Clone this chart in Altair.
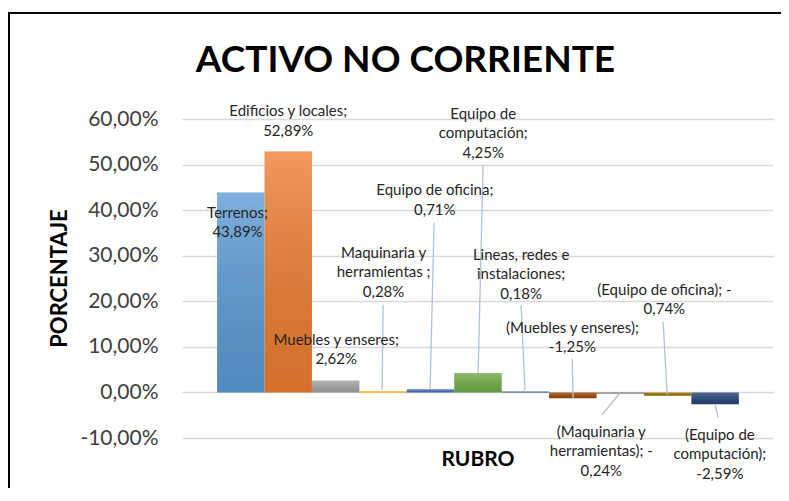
import altair as alt
import pandas as pd

# ---- data ----
categories = [
    "Terrenos", "Edificios y locales", "Muebles y enseres", "Maquinaria y herramientas",
    "Equipo de oficina", "Equipo de computación", "Lineas, redes e instalaciones",
    "(Muebles y enseres)", "(Maquinaria y herramientas)", "(Equipo de oficina)",
    "(Equipo de computación)",
]
values = [43.89, 52.89, 2.62, 0.28, 0.71, 4.25, 0.18, -1.25, -0.24, -0.74, -2.59]
label_texts = [
    "Terrenos;\n43,89%",
    "Edificios y locales;\n52,89%",
    "Muebles y enseres;\n2,62%",
    "Maquinaria y\nherramientas ;\n0,28%",
    "Equipo de oficina;\n0,71%",
    "Equipo de\ncomputación;\n4,25%",
    "Lineas, redes e\ninstalaciones;\n0,18%",
    "(Muebles y enseres);\n-1,25%",
    "(Maquinaria y\nherramientas); -\n0,24%",
    "(Equipo de oficina); -\n0,74%",
    "(Equipo de\ncomputación);\n-2,59%",
]
colors = ["#5b9bd5", "#ed7d31", "#a5a5a5", "#ffc000", "#4472c4", "#70ad47",
          "#255e91", "#9e480e", "#636363", "#997300", "#264478"]
y_ticks = [-10, 0, 10, 20, 30, 40, 50, 60]

# ---- label layout (data units: bar index / percent of first text line) ----
label_x = [-0.07, 1.0, 2.01, 3.01, 4.09, 5.11, 5.91, 6.99, 7.60, 8.93, 10.1]
label_y = [39.4, 61.7, 11.6, 30.7, 44.4, 61.2, 30.2, 14.2, -8.6, 22.5, -9.3]

# leader lines (data units)
lead_x1 = [3.0, 4.075, 5.108, 5.909, 6.985, 7.617, 8.904, 10.063]
lead_y1 = [19.25, 37.24, 49.97, 19.25, 7.40, -4.89, 15.51, -5.55]
lead_x2 = [2.979, 3.991, 5.003, 5.993, 7.006, 7.997, 8.988, 10.0]
lead_y2 = [0.59, 0.81, 4.32, 0.15, -1.16, -0.07, -0.50, -2.70]

idx = list(range(len(categories)))
bars = pd.DataFrame({
    "cat": categories,
    "val": values,
    "x0": [i - 0.5 for i in idx],
    "x1": [i + 0.5 for i in idx],
})
labels = pd.DataFrame({"txt": label_texts, "lx": label_x, "ly": label_y})
leads = pd.DataFrame({"x1": lead_x1, "y1": lead_y1, "x2": lead_x2, "y2": lead_y2})

FONT = "Lato"
xscale = alt.Scale(domain=[-1.24, 11.22], nice=False, zero=False)
yscale = alt.Scale(domain=[-10, 60], nice=False)

x_axis = alt.Axis(title="RUBRO", labels=False, ticks=False, domain=False, grid=False,
                  titleFont=FONT, titleFontSize=21, titleFontWeight="bold",
                  titleColor="#000000", titleBaseline="middle", titleY=21)
y_axis = alt.Axis(title="PORCENTAJE", values=y_ticks, ticks=False, domain=False,
                  grid=True, gridColor="#d9d9d9", gridWidth=1.5,
                  labelExpr="replace(replace(format(datum.value, '.2f'), '.', ','), '\u2212', '-') + '%'",
                  labelFont=FONT, labelFontSize=21, labelColor="#404040", labelPadding=24,
                  titleFont=FONT, titleFontSize=22, titleFontWeight="bold",
                  titleColor="#000000", titleX=-123, titleY=159, titleBaseline="middle")

base_bars = alt.Chart(bars).mark_bar().encode(
    x=alt.X("x0:Q", scale=xscale, axis=x_axis),
    x2="x1:Q",
    y=alt.Y("val:Q", scale=yscale, axis=y_axis),
    y2=alt.datum(0),
    color=alt.Color("cat:N", scale=alt.Scale(domain=categories, range=colors), legend=None),
)

shade = alt.Chart(bars).mark_bar(
    color=alt.Gradient(
        gradient="linear",
        stops=[alt.GradientStop(color="rgba(255,255,255,0.22)", offset=0),
               alt.GradientStop(color="rgba(0,0,0,0.10)", offset=1)],
        x1=0, x2=0, y1=0, y2=1,
    )
).encode(x="x0:Q", x2="x1:Q", y="val:Q", y2=alt.datum(0))

rules = alt.Chart(leads).mark_rule(color="#b4c2d3", strokeWidth=1.3).encode(
    x="x1:Q", y="y1:Q", x2="x2:Q", y2="y2:Q"
)

texts = alt.Chart(labels).mark_text(
    font=FONT, fontSize=15, color="#262626", lineBreak="\n", lineHeight=19.5,
    align="center", baseline="middle"
).encode(x="lx:Q", y="ly:Q", text="txt:N")

# chart border (top and left edges only are visible in the reference)
frame_df = pd.DataFrame({"a": [0]})
frame_top = alt.Chart(frame_df).mark_rule(color="#000000", strokeWidth=2).encode(
    x=alt.value(-174), x2=alt.value(700), y=alt.value(-106)
)
frame_left = alt.Chart(frame_df).mark_rule(color="#000000", strokeWidth=2).encode(
    x=alt.value(-173), y=alt.value(-107), y2=alt.value(500)
)

chart = alt.layer(frame_top, frame_left, base_bars, shade, rules, texts).properties(
    width=591, height=319,
    title=alt.TitleParams("ACTIVO NO CORRIENTE", font=FONT, fontSize=37, fontWeight="bold",
                          color="#000000", anchor="middle", dx=-72, offset=0, dy=98,
                          baseline="alphabetic"),
    autosize=alt.AutoSizeParams(type="none"),
    padding={"left": 174, "top": 111, "right": 8, "bottom": 50},
).configure_view(strokeWidth=0)

chart.save("out.html", embed_options={"renderer": "svg", "actions": False})
